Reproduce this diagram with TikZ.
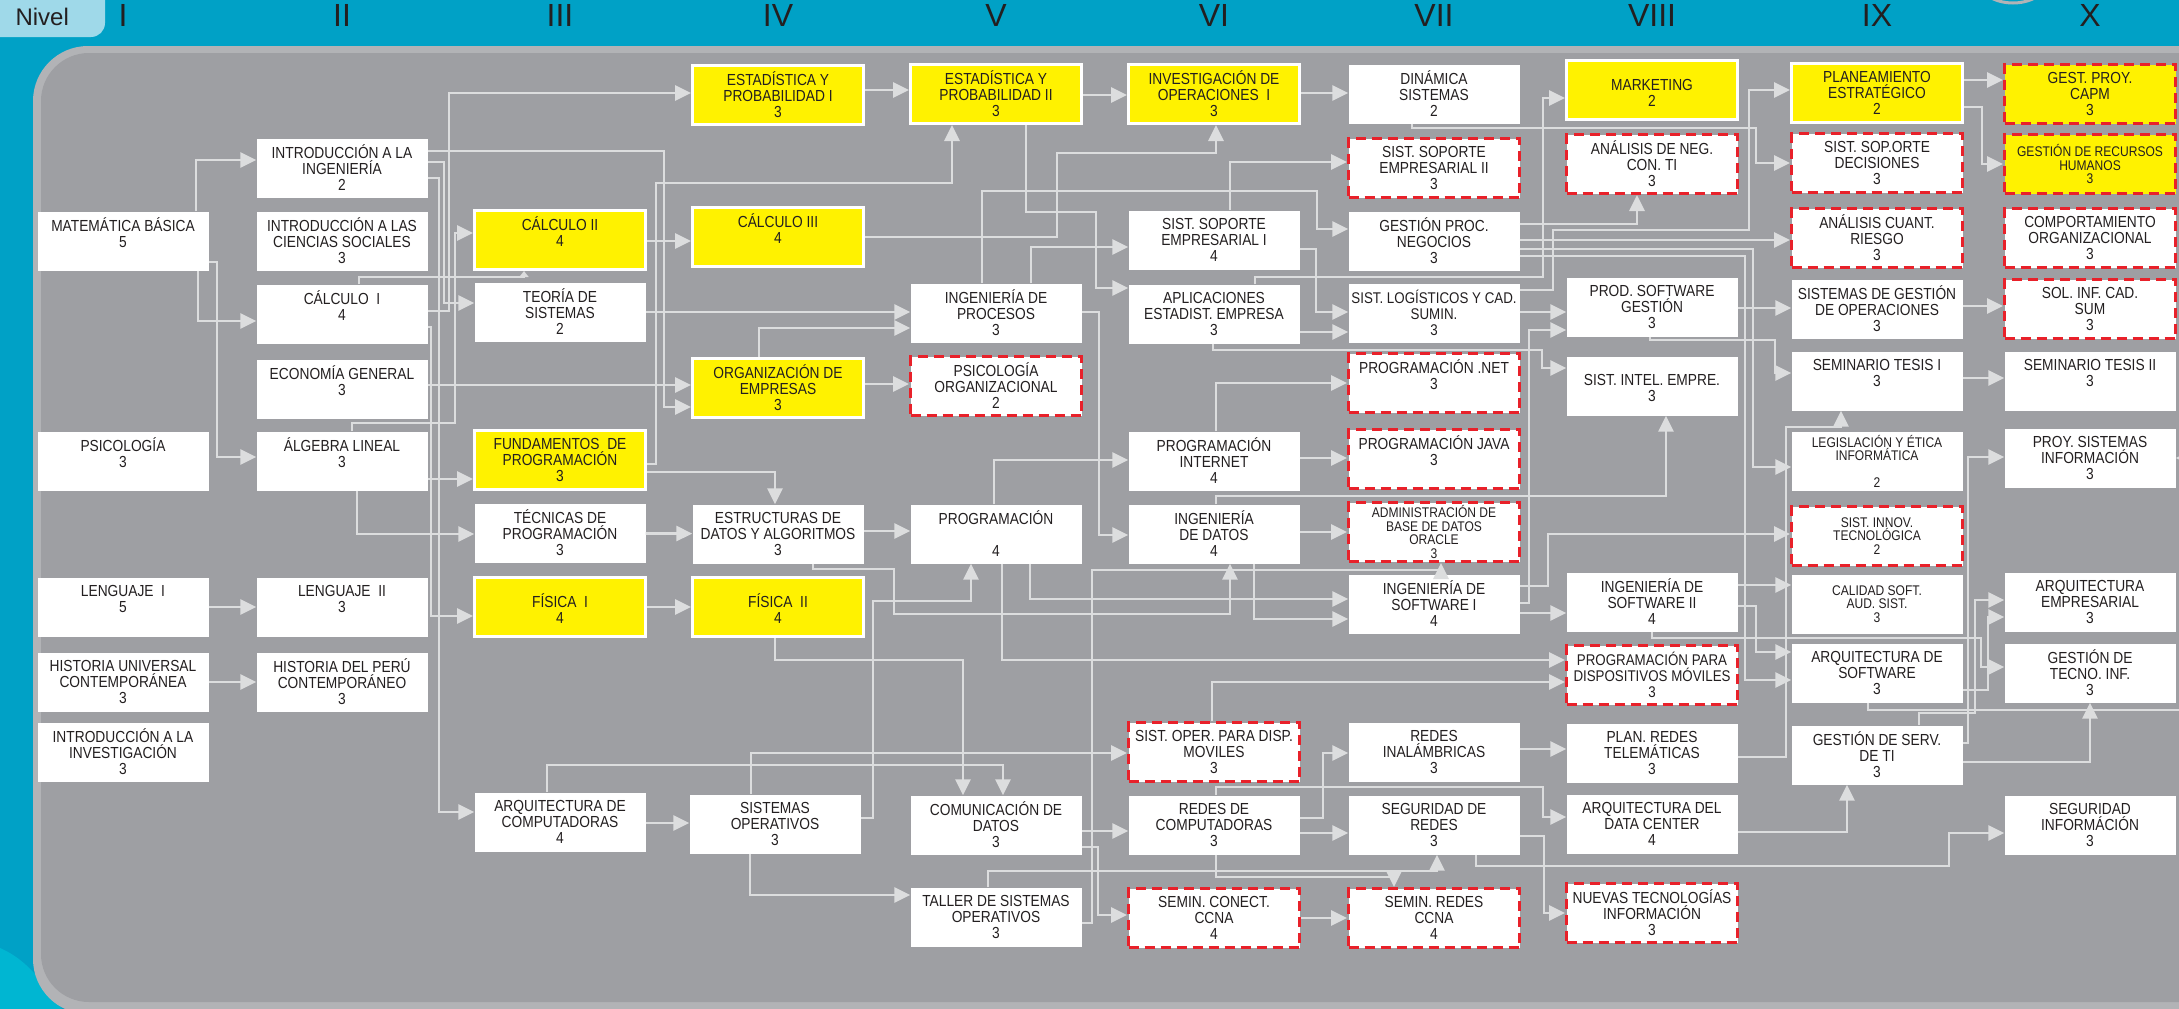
\documentclass[tikz,border=0pt]{standalone}
\usepackage{fontspec}
\setmainfont{Liberation Sans}
\newfontfamily\coursefont[FakeStretch=0.86]{Liberation Sans}
\usetikzlibrary{arrows.meta}
\definecolor{bandblue}{HTML}{00A1C6}
\definecolor{nivelblue}{HTML}{9FD9E9}
\definecolor{swooshblue}{HTML}{00B6D2}
\definecolor{panelrim}{HTML}{B2B3B6}
\definecolor{panelgray}{HTML}{9E9FA3}
\definecolor{linkgray}{HTML}{DCDDDE}
\definecolor{coreyellow}{HTML}{FFF200}
\definecolor{electivered}{HTML}{E8212A}
\definecolor{textdark}{HTML}{231F20}
\newcommand{\cbig}{\coursefont\fontsize{16}{16}\selectfont}
\newcommand{\csmall}{\coursefont\fontsize{14}{13.5}\selectfont}
\tikzset{
  course/.style={fill=white, minimum width=171pt, minimum height=59pt, inner sep=0pt,
    align=center, font=\cbig, text=textdark},
  corecourse/.style={course, fill=coreyellow, draw=white, line width=3pt},
  elective/.style={course, draw=electivered, line width=3pt, dash pattern=on 10pt off 6pt},
  coreelective/.style={elective, fill=coreyellow},
  tight/.style={font=\csmall},
  level/.style={anchor=base, font=\fontsize{32}{32}\selectfont, text=textdark},
  wire/.style={draw=linkgray, line width=2.8pt},
  link/.style={wire, -{Triangle[length=16pt,width=15pt]}},
  smalltip/.style={wire, -{Triangle[length=6pt,width=9pt]}},
}
\begin{document}
\begin{tikzpicture}[x=1pt,y=-1pt]
\useasboundingbox (0,0) rectangle (2179,1009);
% background and panel
\fill[bandblue] (0,0) rectangle (2179,1009);
\fill[swooshblue] (0,948) .. controls (18,956) and (34,968) .. (62,1009) -- (0,1009) -- cycle;
\fill[nivelblue, rounded corners=14pt] (-30,-30) rectangle (105,37);
\node[anchor=base west, font=\fontsize{24}{24}\selectfont, text=textdark] (nivel) at (12,25) {Nivel};
\draw[panelrim, line width=3pt] (2013,-25) ellipse [x radius=38pt, y radius=28pt];
\fill[panelrim, rounded corners=55pt] (33,46) rectangle (2300,1014);
\fill[panelgray, rounded corners=48pt] (41,53) rectangle (2300,1002);
\foreach \rn/\cx in {I/123, II/342, III/560, IV/778, V/996, VI/1214, VII/1434, VIII/1652, IX/1877, X/2090}
  \node[level] (lv\rn) at (\cx,27) {\rn};

% level I
\node[course] (mb) at (123,241) {MATEMÁTICA BÁSICA\\5\\\mbox{}};
\node[course] (psi) at (123,461) {PSICOLOGÍA\\3\\\mbox{}};
\node[course] (lenI) at (123,607) {LENGUAJE~~I\\5\\\mbox{}};
\node[course] (histU) at (123,682) {HISTORIA UNIVERSAL\\CONTEMPORÁNEA\\3};
\node[course] (intInv) at (123,752) {INTRODUCCIÓN A LA\\INVESTIGACIÓN\\3};
% level II
\node[course] (intIng) at (342,168) {INTRODUCCIÓN A LA\\INGENIERÍA\\2};
\node[course] (intCS) at (342,241) {INTRODUCCIÓN A LAS\\CIENCIAS SOCIALES\\3};
\node[course] (calcI) at (342,314) {CÁLCULO~~I\\4\\\mbox{}};
\node[course] (eco) at (342,389) {ECONOMÍA GENERAL\\3\\\mbox{}};
\node[course] (alg) at (342,461) {ÁLGEBRA LINEAL\\3\\\mbox{}};
\node[course] (lenII) at (342,607) {LENGUAJE~~II\\3\\\mbox{}};
\node[course] (histP) at (342,682) {HISTORIA DEL PERÚ\\CONTEMPORÁNEO\\3};
% level III
\node[corecourse] (calcII) at (560,240) {CÁLCULO II\\4\\\mbox{}};
\node[course] (teo) at (560,312) {TEORÍA DE\\SISTEMAS\\2};
\node[corecourse] (fund) at (560,460) {FUNDAMENTOS~~DE\\PROGRAMACIÓN\\3};
\node[course] (tec) at (560,533) {TÉCNICAS DE\\PROGRAMACIÓN\\3};
\node[corecourse] (fisI) at (560,607) {\mbox{}\\FÍSICA~~I\\4};
\node[course] (arqC) at (560,822) {ARQUITECTURA DE\\COMPUTADORAS\\4};
% level IV
\node[corecourse] (epI) at (778,95) {ESTADÍSTICA Y\\PROBABILIDAD I\\3};
\node[corecourse] (calcIII) at (778,237) {CÁLCULO III\\4\\\mbox{}};
\node[corecourse] (org) at (778,388) {ORGANIZACIÓN DE\\EMPRESAS\\3};
\node[course] (edA) at (778,534) {ESTRUCTURAS DE\\DATOS Y ALGORITMOS\\3};
\node[corecourse] (fisII) at (778,607) {\mbox{}\\FÍSICA~~II\\4};
\node[course] (so) at (775,824) {SISTEMAS\\OPERATIVOS\\3};
% level V
\node[corecourse] (epII) at (996,94) {ESTADÍSTICA Y\\PROBABILIDAD II\\3};
\node[course] (ingP) at (996,313) {INGENIERÍA DE\\PROCESOS\\3};
\node[elective] (psiO) at (996,386) {PSICOLOGÍA\\ORGANIZACIONAL\\2};
\node[course] (prog) at (996,534) {PROGRAMACIÓN\\\mbox{}\\4};
\node[course] (com) at (996,825) {COMUNICACIÓN DE\\DATOS\\3};
\node[course] (taller) at (996,917) {TALLER DE SISTEMAS\\OPERATIVOS\\3};
% level VI
\node[corecourse] (invO) at (1214,94) {INVESTIGACIÓN DE\\OPERACIONES~~I\\3};
\node[course] (sse1) at (1214,240) {SIST. SOPORTE\\EMPRESARIAL I\\4};
\node[course] (apl) at (1214,314) {APLICACIONES\\ESTADIST. EMPRESA\\3};
\node[course] (pInt) at (1214,461) {PROGRAMACIÓN\\INTERNET\\4};
\node[course] (ingD) at (1214,534) {INGENIERÍA\\DE DATOS\\4};
\node[elective] (soDisp) at (1214,752) {SIST. OPER. PARA DISP.\\MOVILES\\3};
\node[course] (redC) at (1214,825) {REDES DE\\COMPUTADORAS\\3};
\node[elective] (semC) at (1214,918) {SEMIN. CONECT.\\CCNA\\4};
% level VII
\node[course] (din) at (1434,94) {DINÁMICA\\SISTEMAS\\2};
\node[elective] (sse2) at (1434,168) {SIST. SOPORTE\\EMPRESARIAL II\\3};
\node[course] (gpn) at (1434,241) {GESTIÓN PROC.\\NEGOCIOS\\3};
\node[course, font=\coursefont\fontsize{15.5}{16}\selectfont] (slog) at (1434,313) {SIST. LOGÍSTICOS Y CAD.\\SUMIN.\\3};
\node[elective] (pNet) at (1434,383) {PROGRAMACIÓN .NET\\3\\\mbox{}};
\node[elective] (pJava) at (1434,459) {PROGRAMACIÓN JAVA\\3\\\mbox{}};
\node[elective, tight] (admBD) at (1434,532) {ADMINISTRACIÓN DE\\BASE DE DATOS\\ORACLE\\3};
\node[course] (ingS1) at (1434,604) {INGENIERÍA DE\\SOFTWARE I\\4};
\node[course] (redI) at (1434,752) {REDES\\INALÁMBRICAS\\3};
\node[course] (segR) at (1434,825) {SEGURIDAD DE\\REDES\\3};
\node[elective] (semR) at (1434,918) {SEMIN. REDES\\CCNA\\4};
% level VIII
\node[corecourse] (mkt) at (1652,90) {\mbox{}\\MARKETING\\2};
\node[elective] (anaNeg) at (1652,164) {ANÁLISIS DE NEG.\\CON. TI\\3};
\node[course] (prodSW) at (1652,307) {PROD. SOFTWARE\\GESTIÓN\\3};
\node[course] (sInt) at (1652,386) {\mbox{}\\SIST. INTEL. EMPRE.\\3};
\node[course] (ingS2) at (1652,602) {INGENIERÍA DE\\SOFTWARE II\\4};
\node[elective, font=\coursefont\fontsize{15.5}{16}\selectfont] (pDisp) at (1652,675) {PROGRAMACIÓN PARA\\DISPOSITIVOS MÓVILES\\3};
\node[course] (planR) at (1652,753) {PLAN. REDES\\TELEMÁTICAS\\3};
\node[course] (arqDC) at (1652,824) {ARQUITECTURA DEL\\DATA CENTER\\4};
\node[elective] (nuevas) at (1652,913) {NUEVAS TECNOLOGÍAS\\INFORMACIÓN\\3};
% level IX
\node[corecourse] (plan) at (1877,93) {PLANEAMIENTO\\ESTRATÉGICO\\2};
\node[elective] (ssDec) at (1877,163) {SIST. SOP.ORTE\\DECISIONES\\3};
\node[elective] (anaC) at (1877,238) {ANÁLISIS CUANT.\\RIESGO\\3};
\node[course] (sgo) at (1877,309) {SISTEMAS DE GESTIÓN\\DE OPERACIONES\\3};
\node[course] (semT1) at (1877,381) {SEMINARIO TESIS I\\3\\\mbox{}};
\node[course, tight] (legis) at (1877,461) {LEGISLACIÓN Y ÉTICA\\INFORMÁTICA\\[13pt]2};
\node[elective, tight] (sInnov) at (1877,536) {SIST. INNOV.\\TECNOLÓGICA\\2};
\node[course, tight] (calSoft) at (1877,604) {CALIDAD SOFT.\\AUD. SIST.\\3};
\node[course] (arqSW) at (1877,673) {ARQUITECTURA DE\\SOFTWARE\\3};
\node[course] (gst) at (1877,755) {GESTIÓN DE SERV.\\DE TI\\3};
% level X
\node[coreelective] (gpCapm) at (2090,94) {GEST. PROY.\\CAPM\\3};
\node[coreelective, tight] (gRRHH) at (2090,164) {GESTIÓN DE RECURSOS\\HUMANOS\\3};
\node[elective] (comp) at (2090,238) {COMPORTAMIENTO\\ORGANIZACIONAL\\3};
\node[elective] (sol) at (2090,309) {SOL. INF. CAD.\\SUM\\3};
\node[course] (semT2) at (2090,381) {SEMINARIO TESIS II\\3\\\mbox{}};
\node[course] (proyS) at (2090,458) {PROY. SISTEMAS\\INFORMACIÓN\\3};
\node[course] (arqEmp) at (2090,602) {ARQUITECTURA\\EMPRESARIAL\\3};
\node[course] (gTec) at (2090,673) {GESTIÓN DE\\TECNO. INF.\\3};
\node[course] (segInf) at (2090,825) {SEGURIDAD\\INFORMÁCIÓN\\3};
\coordinate (offA) at (2179,710);
\coordinate (offB) at (2200,458);

% prerequisites
\draw[link] (mb.north -| 196,0) |- (intIng.west |- 0,160);
\draw[link] (mb.south -| 198,0) |- (calcI.west |- 0,321);
\draw[link] (mb.east |- 0,262) -| (217,457) -- (alg.west |- 0,457);
\draw[link] (lenI) -- (lenII);
\draw[link] (histU) -- (histP);
\draw[link] (intIng.east |- 0,151) -| (664,407) -- (org.west |- 0,407);
\draw[link] (intIng.east |- 0,162) -| (444,303) -- (teo.west |- 0,303);
\draw[link] (intIng.east |- 0,178) -| (439,812) -- (arqC.west |- 0,812);
\draw[link] (calcI.east |- 0,311) -| (449,93) -- (epI.west |- 0,93);
\draw[smalltip] (calcI.north -| 359,0) |- (524,277) -- (calcII.south -| 524,0);
\draw[link] (calcI.east |- 0,327) -| (431,616) -- (fisI.west |- 0,616);
\draw[link] (eco.east |- 0,385) -- (org.west |- 0,385);
\draw[link] (alg.north -| 352,0) |- (455,423) |- (calcII.west |- 0,233);
\draw[link] (alg.east |- 0,479) -- (fund.west |- 0,479);
\draw[link] (alg.south -| 357,0) |- (tec.west |- 0,534);
\draw[link] (calcII.east |- 0,241) -- (calcIII.west |- 0,241);
\draw[link] (teo.east |- 0,312) -- (ingP.west |- 0,312);
\draw[link] (org.north -| 759,0) |- (ingP.west |- 0,328);
\draw[link] (fund.east |- 0,464) -| (656,183) -| (epII.south -| 952,0);
\draw[link] (fund.east |- 0,472) -| (edA.north -| 775,0);
\draw[link] (tec) -- (edA);
\draw[link] (fisI) -- (fisII);
\draw[link] (arqC.east |- 0,823) -- (so.west |- 0,823);
\draw[link] (epI.east |- 0,90) -- (epII.west |- 0,90);
\draw[link] (org.east |- 0,384) -- (psiO.west |- 0,384);
\draw[link] (edA.east |- 0,531) -- (prog.west |- 0,531);
\draw[link] (calcIII.east |- 0,237) -| (1057,153) -| (invO.south -| 1216,0);
\draw[link] (epII.east |- 0,95) -- (invO.west |- 0,95);
\draw[link] (epII.south -| 1026,0) |- (1096,212) |- (apl.west |- 0,288);
\draw[link] (ingP.east |- 0,312) -| (1099,535) -- (ingD.west |- 0,535);
\draw[link] (ingP.north -| 1031,0) |- (sse1.west |- 0,247);
\draw[link] (ingP.north -| 982,0) |- (1317,191) |- (gpn.west |- 0,229);
\draw[link] (invO.east |- 0,93) -- (din.west |- 0,93);
\draw[link] (sse1.north -| 1230,0) |- (sse2.west |- 0,162);
\draw[link] (sse1.east |- 0,249) -| (1316,312) -- (slog.west |- 0,312);
\draw[link] (apl.east |- 0,332) -- (slog.west |- 0,332);
\draw[link] (apl.north -| 1255,0) |- (1543,277) |- (mkt.west |- 0,98);
\draw[link] (apl.south -| 1213,0) |- (1542,350) |- (sInt.west |- 0,368);
\draw[link] (prog.north -| 994,0) |- (pInt.west |- 0,460);
\draw[link] (pInt.north -| 1216,0) |- (pNet.west |- 0,383);
\draw[link] (pInt.east |- 0,458) -- (pJava.west |- 0,458);
\draw[link] (ingD.east |- 0,532) -- (admBD.west |- 0,532);
\draw[link] (ingD.north -| 1216,0) |- (1666,496) -- (sInt.south -| 1666,0);
\draw[link] (ingD.south -| 1254,0) |- (ingS1.west |- 0,619);
\draw[link] (edA.south -| 813,0) |- (894,569) |- (1230,614) -- (ingD.south -| 1230,0);
\draw[link] (prog.south -| 1030,0) |- (ingS1.west |- 0,599);
\draw[link] (prog.south -| 1002,0) |- (pDisp.west |- 0,660);
\draw[link] (so.east |- 0,818) -| (873,601) -| (prog.south -| 971,0);
\draw[link] (fisII.south -| 775,0) |- (963,660) -- (com.north -| 963,0);
\draw[link] (so.north -| 751,0) |- (soDisp.west |- 0,753);
\draw[link] (arqC.north -| 547,0) |- (1003,765) -- (com.north -| 1003,0);
\draw[link] (so.south -| 750,0) |- (taller.west |- 0,895);
\draw[link] (com.east |- 0,831) -- (redC.west |- 0,831);
\draw[link] (com.east |- 0,847) -| (1098,915) -- (semC.west |- 0,915);
\draw[link] (taller.east |- 0,923) -| (1092,570) -| (admBD.south -| 1441,0);
\draw[link] (taller.north -| 988,0) |- (1437,871) -- (segR.south -| 1437,0);
\draw[link] (redC.south -| 1216,0) |- (1394,877) -- (semR.north -| 1394,0);
\draw[link] (redC.east |- 0,818) -| (1323,753) -- (redI.west |- 0,753);
\draw[link] (redC.east |- 0,833) -- (segR.west |- 0,833);
\draw[link] (redC.north -| 1216,0) |- (1543,787) |- (arqDC.west |- 0,817);
\draw[link] (semC.east |- 0,918) -- (semR.west |- 0,918);
\draw[link] (redI.east |- 0,749) -- (planR.west |- 0,749);
\draw[link] (segR.east |- 0,836) -| (1544,913) -- (nuevas.west |- 0,913);
\draw[link] (segR.south -| 1476,0) |- (1949,866) |- (segInf.west |- 0,833);
\draw[link] (arqDC.east |- 0,832) -| (gst.south -| 1847,0);
\draw[link] (gst.east |- 0,762) -| (gTec.south);
\draw[link] (planR.east |- 0,757) -| (1786,427) -| (semT1.south -| 1841,0);
\draw[link] (soDisp.north -| 1212,0) |- (pDisp.west |- 0,682);
\draw[link] (ingS1.east |- 0,603) -| (1529,330) -- (prodSW.west |- 0,330);
\draw[link] (ingS1.east |- 0,586) -| (1548,534) -- (sInnov.west |- 0,534);
\draw[link] (ingS1.east |- 0,613) -- (ingS2.west |- 0,613);
\draw[link] (gpn.east |- 0,224) -| (anaNeg.south -| 1637,0);
\draw[link] (slog.east |- 0,290) -| (1553,230) -| (1749,90) -- (plan.west |- 0,90);
\draw[link] (gpn.east |- 0,240) -- (anaC.west |- 0,240);
\draw[link] (gpn.east |- 0,249) -| (1753,467) -- (legis.west |- 0,467);
\draw[link] (gpn.east |- 0,256) -| (1745,680) -- (arqSW.west |- 0,680);
\draw[link] (din.south -| 1412,0) |- (1756,128) |- (ssDec.west |- 0,163);
\draw[link] (plan.east |- 0,80) -- (gpCapm.west |- 0,80);
\draw[link] (plan.east |- 0,107) -| (1982,164) -- (gRRHH.west |- 0,164);
\draw[link] (sgo.east |- 0,306) -- (sol.west |- 0,306);
\draw[link] (prodSW.east |- 0,308) -- (sgo.west |- 0,308);
\draw[link] (slog.east |- 0,312) -- (prodSW.west |- 0,312);
\draw[link] (prodSW.south -| 1650,0) |- (1775,340) |- (semT1.west |- 0,373);
\draw[link] (semT1.east |- 0,378) -- (semT2.west |- 0,378);
\draw[link] (ingS2.east |- 0,585) -- (calSoft.west |- 0,585);
\draw[link] (ingS2.east |- 0,606) -| (1756,652) -- (arqSW.west |- 0,652);
\draw[link] (ingS2.south) |- (1981,638) |- (gTec.west |- 0,667);
\draw[link] (gst.east |- 0,743) -| (1968,457) -- (proyS.west |- 0,457);
\draw[link] (gst.north -| 1919,0) |- (1975,713) |- (arqEmp.west |- 0,600);
\draw[link] (arqSW.east |- 0,690) -| (1988,617) -- (arqEmp.west |- 0,617);
\draw[wire] (arqSW.south -| 1868,0) |- (offA);
\draw[link] (offB) -- (proyS.east |- 0,458);
\end{tikzpicture}
\end{document}
